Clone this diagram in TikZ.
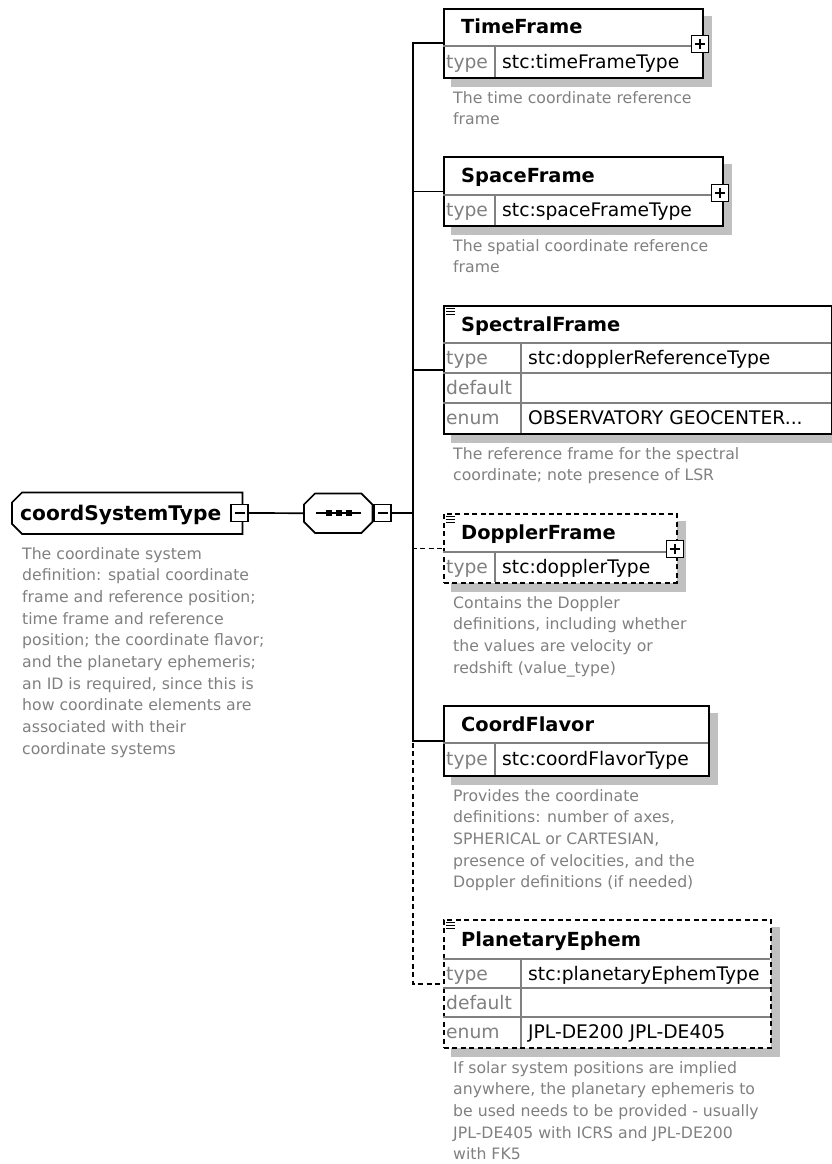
\documentclass[tikz,border=0pt]{standalone}
\usepackage{fontspec}
\setmainfont{DejaVu Sans}
\usetikzlibrary{backgrounds}
\definecolor{descgray}{RGB}{128,128,128}
\definecolor{rulegray}{RGB}{128,128,128}
\definecolor{shadowgray}{RGB}{192,192,192}
\newcommand\notelines[1]{\parbox[t]{380pt}{\raggedright #1}}
\begin{document}
\begin{tikzpicture}[x=1pt,y=-1pt,
  conn/.style={line width=1.7pt},
  optconn/.style={line width=1.7pt, dash pattern=on 5pt off 3.5pt},
  elem/.style={draw=black, fill=white, line width=1.7pt, rectangle, inner sep=0pt, anchor=north west},
  optelem/.style={elem, dash pattern=on 5pt off 3.5pt},
  cellrule/.style={draw=rulegray, line width=1.1pt},
  shadow/.style={fill=shadowgray},
  title/.style={font=\fontsize{19.4}{23}\selectfont\bfseries, anchor=base west, inner sep=0pt},
  celllabel/.style={font=\fontsize{18.7}{22}\selectfont, text=descgray, anchor=base west, inner sep=0pt},
  cellvalue/.style={font=\fontsize{18.7}{22}\selectfont, anchor=base west, inner sep=0pt},
  note/.style={font=\fontsize{15.7}{21.7}\selectfont, text=descgray, anchor=base west, inner sep=0pt},
  toggle/.style={draw=black, fill=white, line width=1.4pt, minimum size=17pt, inner sep=0pt},
  expand/.style={toggle, path picture={
     \draw[line width=1.4pt] ([xshift=3.5pt]path picture bounding box.west) -- ([xshift=-3.5pt]path picture bounding box.east)
       ([yshift=-3.5pt]path picture bounding box.north) -- ([yshift=3.5pt]path picture bounding box.south);}},
  collapse/.style={toggle, path picture={
     \draw[line width=1.4pt] ([xshift=3.5pt]path picture bounding box.west) -- ([xshift=-3.5pt]path picture bounding box.east);}},
  anyicon/.style={line width=1pt},
]
\useasboundingbox (0,0) rectangle (832,1164);
\clip (0,0) rectangle (832,1164);

% ---------- root complex type ----------
\node[anchor=north west, minimum width=230pt, minimum height=41pt, inner sep=0pt] (root) at (12,492.5) {};
\filldraw[fill=white, line width=1.7pt] ([xshift=10pt]root.north west) -- (root.north east) -- (root.south east)
  -- ([xshift=10pt]root.south west) -- ([yshift=10pt]root.south west) -- ([yshift=-10pt]root.north west) -- cycle;
\node[title, font=\fontsize{20.2}{24}\selectfont\bfseries] (rootname) at (20,520) {coordSystemType};
\node[collapse] (rootm) at (239.5,513) {};

% ---------- sequence compositor ----------
\node[anchor=north west, minimum width=68pt, minimum height=39pt, inner sep=0pt] (seq) at (304,493.5) {};
\filldraw[fill=white, line width=1.7pt] ([xshift=11pt]seq.north west) -- ([xshift=-11pt]seq.north east)
  -- ([yshift=-11pt]seq.north east) -- ([yshift=11pt]seq.south east) -- ([xshift=-11pt]seq.south east)
  -- ([xshift=11pt]seq.south west) -- ([yshift=11pt]seq.south west) -- ([yshift=-11pt]seq.north west) -- cycle;
\draw[line width=1.6pt] (316,513) -- (361,513);
\foreach \dx in {328.5,338.5,348.5} \fill (\dx-3,513-2.8) rectangle (\dx+3,513+2.8);

\node[collapse] (seqm) at (382.5,513) {};

% ---------- child elements ----------
\node[elem, minimum width=259pt, minimum height=69pt] (tf) at (443,8) {};
\draw[cellrule] (443,46) -- (702,46) (495,46) -- (495,77);
\node[title] (tfname) at (461,34) {TimeFrame};
\node[celllabel] (tftl) at (446,68.3) {type};
\node[cellvalue] (tftv) at (502,68.3) {stc:timeFrameType};
\node[expand] (tfx) at (700,44) {};
\node[note] (tfnote) at (453,103) {\notelines{The time coordinate reference\\frame}};

\node[elem, minimum width=279pt, minimum height=69pt] (sf) at (443,156) {};
\draw[cellrule] (443,195) -- (722,195) (495,195) -- (495,225);
\node[title] (sfname) at (461,182.5) {SpaceFrame};
\node[celllabel] (sftl) at (446,216.8) {type};
\node[cellvalue] (sftv) at (502,216.8) {stc:spaceFrameType};
\node[expand] (sfx) at (720,193) {};
\node[note] (sfnote) at (453,251) {\notelines{The spatial coordinate reference\\frame}};

\node[elem, minimum width=388pt, minimum height=128pt] (spf) at (443,305) {};
\draw[cellrule] (443,343) -- (831,343) (443,373) -- (831,373) (443,403) -- (831,403) (521,343) -- (521,433);
\draw[anyicon] (446,308.5) -- (455,308.5) (446,311.5) -- (455,311.5) (446,314.5) -- (455,314.5);
\node[title] (spfname) at (461,331) {SpectralFrame};
\node[celllabel] (spftl) at (446,364.8) {type};
\node[cellvalue] (spftv) at (528,364.8) {stc:dopplerReferenceType};
\node[celllabel] (spfdl) at (446,394.8) {default};
\node[celllabel] (spfel) at (446,424.8) {enum};
\node[cellvalue] (spfev) at (528,424.8) {OBSERVATORY GEOCENTER...};
\node[note] (spfnote) at (453,459) {\notelines{The reference frame for the spectral\\coordinate; note presence of LSR}};

\node[optelem, minimum width=233pt, minimum height=69pt] (df) at (443,513) {};
\draw[cellrule] (443,552) -- (676,552) (495,552) -- (495,582);
\draw[anyicon] (446,516.5) -- (455,516.5) (446,519.5) -- (455,519.5) (446,522.5) -- (455,522.5);
\node[title] (dfname) at (461,539.5) {DopplerFrame};
\node[celllabel] (dftl) at (446,573.8) {type};
\node[cellvalue] (dftv) at (502,573.8) {stc:dopplerType};
\node[expand] (dfx) at (675,549) {};
\node[note] (dfnote) at (453,608) {\notelines{Contains the Doppler\\definitions, including whether\\the values are velocity or\\redshift (value\_type)}};

\node[elem, minimum width=265pt, minimum height=70pt] (cf) at (443,705) {};
\draw[cellrule] (443,743) -- (708,743) (495,743) -- (495,775);
\node[title] (cfname) at (461,731) {CoordFlavor};
\node[celllabel] (cftl) at (446,765.8) {type};
\node[cellvalue] (cftv) at (502,765.8) {stc:coordFlavorType};
\node[note] (cfnote) at (453,801) {\notelines{Provides the coordinate\\definitions: number of axes,\\SPHERICAL or CARTESIAN,\\presence of velocities, and the\\Doppler definitions (if needed)}};

\node[optelem, minimum width=327pt, minimum height=128pt] (pe) at (443,919) {};
\draw[cellrule] (443,959) -- (770,959) (443,988) -- (770,988) (443,1017) -- (770,1017) (521,959) -- (521,1047);
\draw[anyicon] (446,922.5) -- (455,922.5) (446,925.5) -- (455,925.5) (446,928.5) -- (455,928.5);
\node[title] (pename) at (461,946) {PlanetaryEphem};
\node[celllabel] (petl) at (446,980.3) {type};
\node[cellvalue] (petv) at (528,980.3) {stc:planetaryEphemType};
\node[celllabel] (pedl) at (446,1009.3) {default};
\node[celllabel] (peel) at (446,1038.8) {enum};
\node[cellvalue] (peev) at (528,1038.8) {JPL-DE200 JPL-DE405};
\node[note] (penote) at (453,1073) {\notelines{If solar system positions are implied\\anywhere, the planetary ephemeris to\\be used needs to be provided - usually\\JPL-DE405 with ICRS and JPL-DE200\\with FK5}};

\node[note] (rootnote) at (22,559) {\notelines{The coordinate system\\definition: spatial coordinate\\frame and reference position;\\time frame and reference\\position; the coordinate flavor;\\and the planetary ephemeris;\\an ID is required, since this is\\how coordinate elements are\\associated with their\\coordinate systems}};

% ---------- connectors ----------
\coordinate (bus) at (413,513);
\draw[conn] (rootm.east) -- (seq.west);
\draw[conn] (seqm.east) -- (bus);
\draw[optconn] (bus) |- (pe.west);
\draw[optconn] (bus) |- (df.west);
\draw[conn] (bus) |- (tf.west);
\draw[conn] (bus) |- (sf.west);
\draw[conn] (bus) |- (spf.west);
\draw[conn] (bus) |- (cf.west);

% ---------- drop shadows ----------
\begin{scope}[on background layer]
  \foreach \n in {tf,sf,spf,df,cf,pe}
    \fill[shadow] ([shift={(8,8)}]\n.north west) rectangle ([shift={(8,8)}]\n.south east);
  \begin{scope}[shift={(8,8)}]
    \fill[shadow] ([xshift=10pt]root.north west) -- (root.north east) -- (root.south east)
      -- ([xshift=10pt]root.south west) -- ([yshift=10pt]root.south west) -- ([yshift=-10pt]root.north west) -- cycle;
    \fill[shadow] ([xshift=11pt]seq.north west) -- ([xshift=-11pt]seq.north east)
      -- ([yshift=-11pt]seq.north east) -- ([yshift=11pt]seq.south east) -- ([xshift=-11pt]seq.south east)
      -- ([xshift=11pt]seq.south west) -- ([yshift=11pt]seq.south west) -- ([yshift=-11pt]seq.north west) -- cycle;
  \end{scope}
\end{scope}
\end{tikzpicture}
\end{document}
